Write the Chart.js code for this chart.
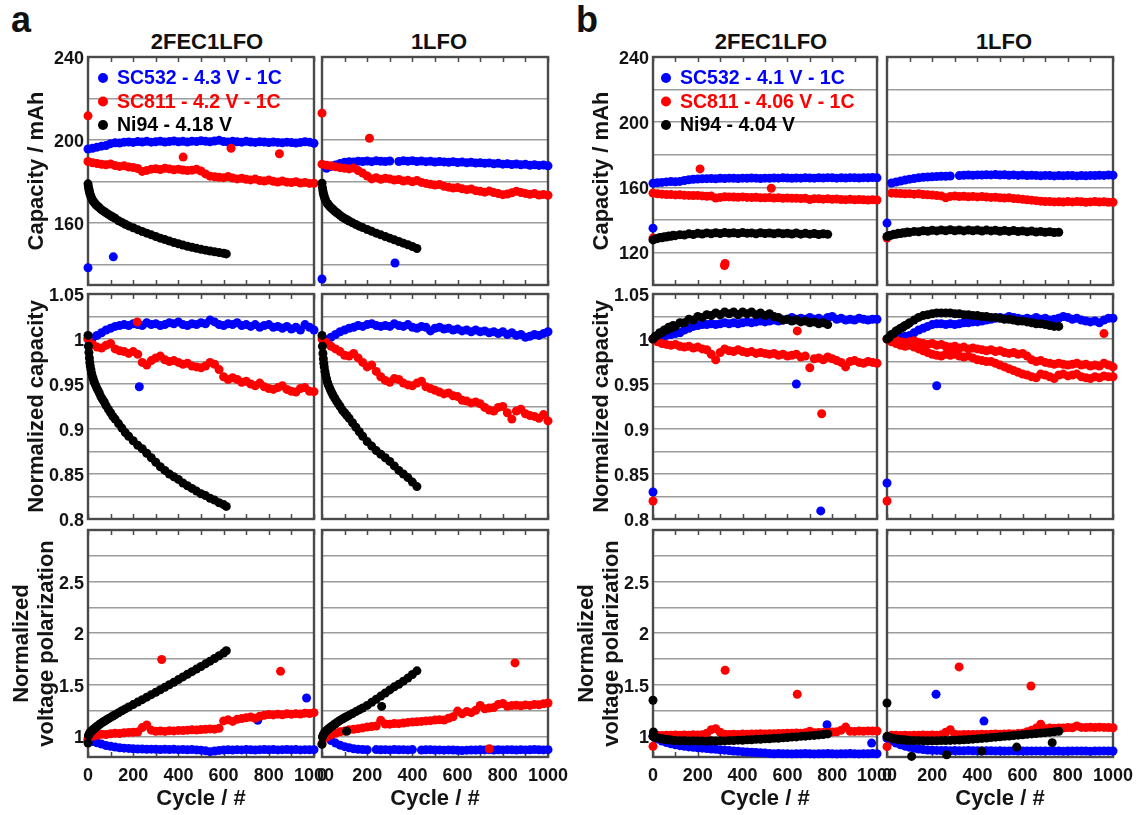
<!DOCTYPE html>
<html>
<head>
<meta charset="utf-8">
<title>Capacity, normalized capacity and voltage polarization vs. cycle</title>
<script src="https://cdn.jsdelivr.net/npm/chart.js@4.4.1/dist/chart.umd.min.js"></script>
<style>
  html, body { margin: 0; padding: 0; background: #fff; overflow: hidden; }
  #fig { position: relative; width: 1142px; height: 815px; background: #fff; }
  #fig canvas { position: absolute; left: 0; top: 0; }
  .txt { position: absolute; font-family: 'Liberation Sans', Arial, Helvetica, sans-serif;
         font-weight: bold; color: #111; white-space: nowrap; line-height: 1; }
  .hdr { font-size: 22px; transform: translateX(-50%); top: 31px; }
  .pl { font-size: 36px; top: 2px; }
</style>
</head>
<body>
<div id="fig">
  <div class="txt pl" style="left:11px">a</div>
  <div class="txt pl" style="left:576px">b</div>
  <div class="txt hdr" style="left:207px">2FEC1LFO</div>
  <div class="txt hdr" style="left:439px">1LFO</div>
  <div class="txt hdr" style="left:771px">2FEC1LFO</div>
  <div class="txt hdr" style="left:1004px">1LFO</div>
</div>
<script>
// ---------------- cycle numbers ----------------
const C20 = [0,20,40,60,80,100,120,140,160,180,200,220,240,260,280,300,320,340,360,380,400,420,440,460,480,500,520,540,560,580,600,620,640,660,680,700,720,740,760,780,800,820,840,860,880,900,920,940,960,980,1000];
const KA1 = [0,2,4,6,8,10,13,16,20,24,28,33,38,44,50,57,64,72,80,90,100,110,120,135,150,165,180,200,220,240,260,280,300,320,340,360,380,400,420,440,460,480,500,520,540,560,580,600,612];
const KA2 = [0,2,4,6,8,10,13,16,20,24,28,33,38,44,50,57,64,72,80,90,100,110,120,135,150,165,180,200,220,240,260,280,300,320,340,360,380,400,420];
const KB1 = [0,10,20,30,40,50,60,70,80,90,100,120,140,160,180,200,220,240,260,280,300,320,340,360,380,400,420,440,460,480,500,520,540,560,580,600,620,640,660,680,700,720,740,760,780];
const KB2 = [0,10,20,30,40,50,60,70,80,90,100,120,140,160,180,200,220,240,260,280,300,320,340,360,380,400,420,440,460,480,500,520,540,560,580,600,620,640,660,680,700,720,740,760];

// ---------------- axis ticks ----------------
const X_LABELS = [0,200,400,600,800,1000];
const X_MINOR = [0,100,200,300,400,500,600,700,800,900,1000];
const CAP_A_GRID = [140,160,180,200,220,240];
const CAP_A_LABELS = [160,200,240];
const CAP_B_GRID = [100,120,140,160,180,200,220,240];
const CAP_B_LABELS = [120,160,200,240];
const NRM_GRID = [0.8,0.825,0.85,0.875,0.9,0.925,0.95,0.975,1,1.025,1.05];
const NRM_LABELS = [0.8,0.85,0.9,0.95,1,1.05];
const POL_GRID = [1,1.25,1.5,1.75,2,2.25,2.5,2.75,3];
const POL_LABELS = [1,1.5,2,2.5];

// ---------------- series labels ----------------
const LABELS_A = ['SC532 - 4.3 V - 1C','SC811 - 4.2 V - 1C','Ni94 - 4.18 V'];
const LABELS_B = ['SC532 - 4.1 V - 1C','SC811 - 4.06 V - 1C','Ni94 - 4.04 V'];

// ======== a: 2FEC1LFO ========
const A_CAP_F_BLU = [195.6,196.0,196.5,197.0,197.3,198.2,198.6,198.5,198.9,199.0,198.8,199.2,199.0,199.3,198.9,199.1,199.4,199.0,199.2,199.5,199.1,199.3,199.0,199.4,199.2,199.6,199.3,199.1,199.5,199.8,199.2,199.0,199.3,199.1,198.9,199.3,199.0,198.8,199.1,199.0,198.7,199.0,198.8,198.6,198.9,198.7,198.5,198.8,199.1,198.9,198.4];
const A_CAP_F_BLU_OUT = [[0,138.3],[112,143.6]];
const A_CAP_F_RED = [189.6,189.0,188.6,188.2,188.0,188.4,187.6,187.2,187.5,186.9,186.7,186.2,184.8,185.3,185.9,186.1,185.7,186.3,186.0,185.6,185.9,185.5,185.2,185.4,185.8,185.0,183.6,182.5,182.2,182.0,181.8,182.3,181.6,181.2,181.5,181.0,180.7,181.1,180.4,180.2,180.6,180.0,179.7,180.2,179.6,179.4,179.8,179.2,179.5,179.0,179.1];
const A_CAP_F_RED_OUT = [[0,211.6],[421,191.7],[633,196.0],[847,193.3]];
const A_CAP_F_BLK = [178.8,177.4,176.2,175.2,174.3,173.5,172.6,171.8,171.0,170.3,169.7,169.1,168.5,167.9,167.3,166.6,166.0,165.4,164.8,164.1,163.4,162.8,162.2,161.0,160.2,159.3,158.5,157.6,156.7,155.8,155.0,154.2,153.4,152.6,151.9,151.2,150.5,149.9,149.3,148.7,148.2,147.7,147.2,146.8,146.4,146.0,145.7,145.3,145.0];

const A_NRM_F_BLU = [1.000,1.001,1.004,1.007,1.010,1.012,1.014,1.015,1.016,1.015,1.017,1.016,1.015,1.018,1.016,1.017,1.015,1.016,1.018,1.017,1.019,1.016,1.015,1.017,1.016,1.018,1.017,1.021,1.019,1.016,1.015,1.017,1.016,1.018,1.015,1.016,1.014,1.016,1.013,1.015,1.016,1.013,1.014,1.012,1.014,1.011,1.013,1.010,1.016,1.013,1.010];
const A_NRM_F_BLU_OUT = [[227,0.947]];
const A_NRM_F_RED = [1.000,0.994,0.991,0.990,0.993,0.995,0.989,0.987,0.986,0.984,0.986,0.983,0.974,0.971,0.976,0.979,0.981,0.977,0.975,0.976,0.974,0.972,0.973,0.970,0.969,0.968,0.970,0.974,0.972,0.966,0.958,0.955,0.957,0.955,0.952,0.953,0.950,0.948,0.951,0.947,0.945,0.944,0.946,0.948,0.944,0.942,0.941,0.945,0.946,0.942,0.9415];
const A_NRM_F_RED_OUT = [[218,1.019]];
const A_NRM_F_BLK = [1.004,0.992,0.985,0.979,0.974,0.970,0.966,0.962,0.958,0.955,0.952,0.949,0.946,0.943,0.940,0.936,0.933,0.930,0.926,0.922,0.918,0.914,0.911,0.906,0.901,0.896,0.892,0.887,0.882,0.878,0.873,0.868,0.863,0.858,0.854,0.850,0.847,0.844,0.840,0.837,0.834,0.831,0.828,0.826,0.823,0.821,0.818,0.816,0.814];

const A_POL_F_BLU = [0.960,0.950,0.938,0.925,0.912,0.903,0.896,0.890,0.886,0.883,0.880,0.878,0.877,0.875,0.876,0.874,0.873,0.875,0.872,0.874,0.871,0.873,0.870,0.872,0.869,0.866,0.860,0.852,0.858,0.864,0.867,0.870,0.868,0.871,0.869,0.872,0.870,0.868,0.871,0.873,0.870,0.872,0.869,0.871,0.873,0.870,0.872,0.869,0.871,0.870,0.871];
const A_POL_F_BLU_OUT = [[751,1.155],[967,1.372]];
const A_POL_F_RED = [0.975,1.000,1.010,1.020,1.018,1.025,1.030,1.028,1.035,1.038,1.040,1.042,1.085,1.110,1.060,1.050,1.052,1.048,1.055,1.053,1.058,1.056,1.060,1.063,1.061,1.066,1.068,1.072,1.070,1.078,1.150,1.160,1.145,1.165,1.172,1.180,1.188,1.176,1.195,1.205,1.212,1.208,1.215,1.210,1.218,1.214,1.220,1.216,1.225,1.222,1.230];
const A_POL_F_RED_OUT = [[326,1.745],[852,1.630]];
const A_POL_F_BLK = [0.935,1.005,1.016,1.024,1.031,1.037,1.045,1.053,1.061,1.068,1.075,1.084,1.093,1.103,1.114,1.125,1.136,1.147,1.158,1.171,1.184,1.197,1.210,1.229,1.248,1.266,1.285,1.308,1.332,1.356,1.380,1.404,1.428,1.452,1.476,1.500,1.525,1.550,1.576,1.602,1.627,1.652,1.677,1.703,1.729,1.755,1.781,1.808,1.830];

// ======== a: 1LFO ========
const A_CAP_L_BLU = [null,186.3,187.2,187.9,188.6,189.2,189.5,189.4,189.7,189.6,189.8,189.5,189.9,189.7,189.6,189.8,null,189.6,189.9,189.7,190.0,189.6,189.8,189.5,189.7,189.3,189.6,189.4,189.2,189.5,189.1,189.3,189.0,189.2,188.8,189.0,188.7,188.9,188.5,188.7,188.3,188.5,188.1,188.4,188.0,188.2,187.8,188.0,187.7,187.9,187.5];
const A_CAP_L_BLU_OUT = [[0,132.9],[323,140.6]];
const A_CAP_L_RED = [188.3,187.8,187.5,187.0,186.6,186.3,186.0,186.4,185.2,184.0,182.6,181.2,181.8,181.0,181.5,181.2,180.6,180.9,180.2,180.5,179.8,180.4,179.5,179.0,178.6,178.2,178.5,177.6,177.2,176.8,177.0,176.4,176.0,176.3,175.5,175.2,174.8,175.3,174.6,174.1,173.6,173.9,174.5,175.2,174.6,174.2,173.8,174.1,173.4,173.7,173.3];
const A_CAP_L_RED_OUT = [[0,212.9],[210,200.8]];
const A_CAP_L_BLK = [179.1,177.0,175.5,174.3,173.4,172.6,171.6,170.8,170.0,169.3,168.7,168.1,167.5,166.9,166.3,165.6,165.0,164.3,163.6,162.8,162.1,161.5,160.9,160.0,159.2,158.4,157.7,156.8,155.9,155.0,154.2,153.4,152.6,151.8,151.0,150.2,149.4,148.6,147.6];

const A_NRM_L_BLU = [null,0.999,1.002,1.005,1.008,1.010,1.012,1.013,1.015,1.014,1.016,1.017,1.015,1.014,1.015,1.014,1.017,1.015,1.014,1.016,1.013,1.012,1.014,1.013,1.009,1.012,1.013,1.011,1.012,1.010,1.011,1.009,1.010,1.008,1.010,1.008,1.009,1.007,1.008,1.006,1.008,1.005,1.007,1.004,1.005,1.002,1.003,1.005,1.004,1.006,1.008];
const A_NRM_L_RED = [1.000,0.996,0.992,0.989,0.986,0.982,0.981,0.984,0.979,0.974,0.969,0.971,0.964,0.958,0.954,0.952,0.956,0.955,0.951,0.949,0.948,0.951,0.953,0.947,0.945,0.943,0.941,0.939,0.940,0.937,0.936,0.932,0.931,0.929,0.930,0.928,0.924,0.921,0.920,0.924,0.925,0.918,0.911,0.920,0.922,0.917,0.915,0.914,0.912,0.916,0.909];
const A_NRM_L_BLK = [1.004,0.992,0.984,0.978,0.973,0.969,0.964,0.960,0.956,0.952,0.949,0.946,0.943,0.940,0.937,0.934,0.931,0.928,0.925,0.921,0.918,0.915,0.912,0.907,0.902,0.897,0.892,0.886,0.881,0.876,0.872,0.868,0.864,0.859,0.854,0.850,0.846,0.841,0.836];

const A_POL_L_BLU = [null,1.000,0.960,0.935,0.915,0.900,0.890,0.880,0.875,0.872,0.870,null,0.872,0.870,0.871,0.869,0.872,0.870,0.871,0.869,0.872,null,0.868,0.870,0.871,0.868,0.869,0.866,0.869,0.868,0.865,0.862,0.866,0.868,0.867,0.870,0.869,0.871,0.868,0.870,0.869,0.871,0.870,0.868,0.871,0.869,0.870,0.872,0.870,0.869,0.871];
const A_POL_L_RED = [0.930,0.990,1.015,1.030,1.045,1.052,1.065,1.068,1.075,1.082,1.090,1.096,1.100,1.155,1.120,1.118,1.125,1.123,1.130,1.135,1.138,1.142,1.145,1.150,1.152,1.158,1.162,1.158,1.175,1.190,1.245,1.218,1.240,1.230,1.252,1.300,1.268,1.275,1.280,1.310,1.318,1.292,1.298,1.302,1.296,1.305,1.300,1.310,1.306,1.315,1.323];
const A_POL_L_RED_OUT = [[740,0.880],[854,1.712]];
const A_POL_L_BLK = [0.922,0.993,1.005,1.014,1.022,1.029,1.038,1.046,1.055,1.063,1.071,1.080,1.089,1.099,1.109,1.120,1.131,1.143,1.155,1.168,1.180,1.192,1.204,1.222,1.240,1.257,1.275,1.300,1.330,1.360,1.390,1.420,1.450,1.480,1.505,1.535,1.565,1.600,1.635];
const A_POL_L_BLK_OUT = [[109,1.050],[264,1.290]];

// ======== b: 2FEC1LFO ========
const B_CAP_F_BLU = [162.5,162.8,163.0,163.3,163.5,163.4,163.6,164.2,164.6,164.9,165.1,165.2,165.3,165.4,165.2,165.5,165.4,165.6,165.5,165.4,165.6,165.5,165.7,165.6,165.4,165.6,165.5,165.7,165.6,165.8,165.7,165.5,165.7,165.6,165.8,165.7,165.6,165.8,165.7,165.9,165.8,165.6,165.8,165.7,165.9,165.8,165.7,165.9,165.8,166.0,165.8];
const B_CAP_F_BLU_OUT = [[0,134.9]];
const B_CAP_F_RED = [156.4,156.0,155.8,155.6,155.5,155.3,155.4,155.1,155.0,154.9,155.0,154.7,154.5,154.6,153.4,153.8,154.2,154.1,154.0,153.9,154.1,153.8,153.7,153.9,153.6,153.5,153.7,153.4,153.5,153.3,153.4,153.2,153.3,153.1,153.2,152.5,153.0,152.9,152.7,152.9,152.6,152.8,152.5,152.4,152.6,152.3,152.5,152.3,152.2,152.4,152.2];
const B_CAP_F_RED_OUT = [[0,128.8],[210,171.3],[319,112.0],[322,113.2],[528,159.4]];
const B_CAP_F_BLK = [127.7,128.3,128.5,129.1,129.0,129.6,129.5,130.1,129.9,130.5,130.3,130.9,130.7,131.4,131.0,131.7,131.3,132.0,131.5,132.1,131.6,132.2,131.7,132.1,131.6,132.2,131.7,132.0,131.5,132.1,131.6,131.9,131.4,132.0,131.4,131.8,131.3,131.9,131.2,131.7,131.2,131.6,131.0,131.5,131.1];

const B_NRM_F_BLU = [1.000,1.001,1.002,1.004,1.005,1.006,1.007,1.010,1.012,1.014,1.015,1.016,1.016,1.017,1.016,1.017,1.018,1.017,1.018,1.017,1.018,1.019,1.018,1.019,1.020,1.019,1.020,1.021,1.020,1.021,1.022,1.024,1.022,1.023,1.022,1.024,1.022,1.023,1.021,1.024,1.025,1.022,1.023,1.021,1.022,1.021,1.023,1.022,1.021,1.022,1.022];
const B_NRM_F_BLU_OUT = [[0,0.830],[640,0.950],[749,0.809]];
const B_NRM_F_RED = [1.000,0.997,0.995,0.994,0.993,0.994,0.992,0.991,0.992,0.990,0.991,0.989,0.988,0.983,0.977,0.985,0.989,0.987,0.986,0.988,0.986,0.985,0.986,0.984,0.985,0.984,0.983,0.984,0.982,0.983,0.981,0.982,0.983,0.980,0.981,0.968,0.978,0.979,0.977,0.980,0.978,0.976,0.974,0.969,0.975,0.976,0.974,0.973,0.975,0.974,0.973];
const B_NRM_F_RED_OUT = [[0,0.820],[644,1.009],[753,0.917]];
const B_NRM_F_BLK = [1.000,1.003,1.004,1.007,1.007,1.010,1.010,1.013,1.012,1.015,1.014,1.018,1.018,1.022,1.021,1.025,1.024,1.027,1.026,1.029,1.027,1.030,1.028,1.030,1.027,1.030,1.028,1.030,1.027,1.029,1.026,1.028,1.025,1.024,1.021,1.022,1.020,1.021,1.019,1.020,1.018,1.019,1.017,1.018,1.016];

const B_POL_F_BLU = [1.000,0.975,0.955,0.940,0.928,0.918,0.910,0.903,0.898,0.894,0.890,0.886,0.882,0.878,0.874,0.870,0.866,0.862,0.858,0.855,0.852,0.849,0.846,0.843,0.840,0.838,0.835,0.832,0.833,0.831,0.832,0.830,0.832,0.831,0.833,0.831,0.830,0.832,0.831,0.833,0.832,0.830,0.832,0.831,0.833,0.831,0.830,0.832,0.831,0.833,0.832];
const B_POL_F_BLU_OUT = [[777,1.113],[976,0.935]];
const B_POL_F_RED = [0.903,1.010,1.008,1.012,1.010,1.013,1.011,1.014,1.012,1.015,1.013,1.016,1.030,1.065,1.075,1.040,1.020,1.018,1.020,1.019,1.022,1.021,1.023,1.022,1.025,1.024,1.026,1.025,1.028,1.027,1.030,1.029,1.032,1.031,1.034,1.050,1.036,1.038,1.037,1.040,1.042,1.045,1.060,1.090,1.050,1.048,1.052,1.050,1.053,1.051,1.052];
const B_POL_F_RED_OUT = [[322,1.641],[644,1.408]];
const B_POL_F_BLK = [1.000,0.992,0.986,0.980,0.977,0.972,0.970,0.966,0.965,0.961,0.961,0.958,0.959,0.955,0.957,0.954,0.956,0.953,0.957,0.955,0.958,0.956,0.960,0.959,0.963,0.962,0.967,0.966,0.971,0.971,0.976,0.976,0.981,0.982,0.987,0.988,0.993,0.995,1.000,1.002,1.007,1.009,1.014,1.018,1.024];
const B_POL_F_BLK_OUT = [[0,1.350],[2,1.042]];

// ======== b: 1LFO ========
const B_CAP_L_BLU = [null,162.6,163.2,163.8,164.4,165.0,165.4,165.8,166.1,166.3,166.5,166.6,166.7,166.8,166.9,null,167.2,167.4,167.5,167.4,167.6,167.5,167.7,167.6,167.8,167.5,167.7,167.4,167.6,167.3,167.5,167.2,167.4,167.3,167.1,167.3,167.2,167.0,167.2,167.1,167.3,167.2,167.0,167.2,167.1,167.3,167.2,167.4,167.3,167.5,167.4];
const B_CAP_L_BLU_OUT = [[0,138.0]];
const B_CAP_L_RED = [null,156.4,156.3,156.2,156.0,156.1,155.8,156.0,155.6,155.4,155.2,154.9,154.7,153.6,154.4,154.6,154.3,154.5,154.2,154.4,154.1,154.3,154.0,153.8,153.9,153.6,153.4,153.5,153.1,152.9,152.6,152.3,152.1,151.8,151.5,151.3,151.2,151.0,151.1,150.9,151.2,151.0,151.3,151.1,150.8,151.0,151.2,150.9,151.1,150.8,150.8];
const B_CAP_L_RED_OUT = [[0,128.8]];
const B_CAP_L_BLK = [129.8,130.4,130.6,131.2,131.1,131.7,131.6,132.1,132.0,132.5,132.3,132.9,132.7,133.3,133.0,133.6,133.2,133.8,133.3,133.9,133.3,133.8,133.2,133.8,133.3,133.7,133.1,133.7,133.2,133.6,133.0,133.5,132.9,133.4,132.8,133.2,132.7,133.1,132.5,132.9,132.4,132.7,132.2,132.4];

const B_NRM_L_BLU = [null,1.000,1.001,1.002,1.003,1.004,1.007,1.010,1.012,1.014,1.016,1.017,1.017,1.016,1.017,1.016,1.017,1.018,1.018,1.019,1.019,1.020,1.021,1.022,1.023,1.024,1.023,1.025,1.024,1.023,1.022,1.023,1.022,1.024,1.022,1.023,1.021,1.022,1.023,1.025,1.024,1.022,1.023,1.021,1.020,1.019,1.020,1.018,1.021,1.023,1.023];
const B_NRM_L_BLU_OUT = [[0,0.840],[220,0.948]];
const B_NRM_L_RED = [1.000,0.998,0.999,0.997,0.996,0.997,0.998,0.996,0.995,0.994,0.995,0.993,0.994,0.992,0.991,0.992,0.990,0.991,0.989,0.990,0.989,0.988,0.987,0.988,0.986,0.987,0.985,0.984,0.985,0.983,0.984,0.981,0.977,0.975,0.976,0.974,0.973,0.972,0.973,0.972,0.971,0.972,0.973,0.971,0.972,0.970,0.971,0.970,0.973,0.971,0.969];
const B_NRM_L_RED_OUT = [[0,0.820],[960,1.006]];
const B_NRM_L_RED2 = [null,0.997,0.995,0.993,0.992,0.993,0.991,0.989,0.987,0.985,0.983,0.982,0.981,0.983,0.982,0.983,0.981,0.980,0.981,0.979,0.977,0.976,0.975,0.975,0.973,0.971,0.969,0.967,0.965,0.963,0.961,0.960,0.958,0.957,0.961,0.960,0.958,0.956,0.960,0.961,0.959,0.960,0.961,0.958,0.957,0.956,0.958,0.957,0.959,0.958,0.958];
const B_NRM_L_BLK = [1.000,1.002,1.005,1.006,1.009,1.010,1.012,1.013,1.015,1.016,1.018,1.021,1.024,1.026,1.027,1.028,1.029,1.029,1.029,1.029,1.028,1.028,1.027,1.027,1.026,1.026,1.025,1.025,1.024,1.024,1.023,1.022,1.022,1.021,1.020,1.020,1.019,1.018,1.017,1.017,1.016,1.015,1.014,1.014];

const B_POL_L_BLU = [0.980,0.955,0.935,0.918,0.905,0.895,0.885,0.878,0.872,0.868,0.865,0.864,0.862,0.863,0.861,0.862,0.860,0.861,0.862,0.860,0.861,0.859,0.860,0.861,0.859,0.860,0.858,0.859,0.860,0.858,0.859,0.857,0.858,0.859,0.857,0.858,0.859,0.857,0.858,0.856,0.858,0.857,0.859,0.857,0.858,0.856,0.858,0.857,0.859,0.857,0.858];
const B_POL_L_BLU_OUT = [[217,1.408],[429,1.148]];
const B_POL_L_RED = [0.900,1.010,1.012,1.008,1.011,1.009,1.012,1.010,1.013,1.011,1.014,1.012,1.015,1.040,1.065,1.020,1.016,1.018,1.017,1.019,1.018,1.020,1.019,1.021,1.022,1.020,1.023,1.025,1.024,1.027,1.030,1.045,1.060,1.080,1.117,1.075,1.080,1.078,1.082,1.080,1.085,1.083,1.100,1.087,1.085,1.088,1.086,1.089,1.087,1.085,1.084];
const B_POL_L_RED_OUT = [[319,1.673],[637,1.488]];
const B_POL_L_BLK = [1.000,0.990,0.983,0.978,0.974,0.971,0.968,0.966,0.964,0.963,0.961,0.960,0.959,0.958,0.958,0.958,0.958,0.959,0.960,0.961,0.963,0.965,0.967,0.970,0.973,0.976,0.980,0.984,0.988,0.992,0.996,1.000,1.004,1.008,1.012,1.016,1.020,1.024,1.028,1.032,1.036,1.040,1.045,1.050];
const B_POL_L_BLK_OUT = [[0,1.323],[109,0.806],[264,0.822],[419,0.857],[574,0.896],[731,0.939]];

// ---------------- drawing setup ----------------
const PAGE_W = 1142, PAGE_H = 815;
const FONT = "'Liberation Sans', Arial, Helvetica, sans-serif";
const BLUE = '#0000ff', RED = '#ff0000', BLACK = '#000000';
const TEXT = '#141414', GRID = '#9c9c9c', FRAME = '#4a4a4a';
Chart.defaults.font.family = FONT;

// plot-area rectangles (page pixels)
const COL_AF = [88, 314], COL_AL = [322, 548], COL_BF = [653, 877], COL_BL = [887, 1113];
const ROW_CAP = [57, 285], ROW_NRM = [294, 519], ROW_POL = [530, 757];

const AX_CAP_A = { min: 130, max: 240, grid: CAP_A_GRID, labels: CAP_A_LABELS };
const AX_CAP_B = { min: 100, max: 240, grid: CAP_B_GRID, labels: CAP_B_LABELS };
const AX_NRM = { min: 0.8, max: 1.05, grid: NRM_GRID, labels: NRM_LABELS };
const AX_POL = { min: 0.8, max: 3, grid: POL_GRID, labels: POL_LABELS };

function points(xs, ys, extra) {
  const out = [];
  xs.forEach((x, i) => { const y = ys[i]; if (y !== null && y !== undefined) out.push({ x, y }); });
  (extra || []).forEach(p => out.push({ x: p[0], y: p[1] }));
  return out;
}

function ds(label, color, xs, ys, extra, order) {
  return {
    label, order, data: points(xs, ys, extra),
    backgroundColor: color, borderColor: color, pointRadius: 4.5, pointBorderWidth: 0,
    pointHoverRadius: 4.5, showLine: false, clip: false
  };
}

// frame and inward minor ticks of every panel
const framePlugin = {
  id: 'panelFrame',
  beforeDatasetsDraw(chart) {
    const { ctx, chartArea: a } = chart;
    const xs = chart.scales.x;
    ctx.save();
    ctx.strokeStyle = FRAME;
    ctx.lineWidth = 1.5;
    ctx.beginPath();
    X_MINOR.forEach(v => {
      const px = Math.round(xs.getPixelForValue(v)) + 0.5;
      ctx.moveTo(px, a.top); ctx.lineTo(px, a.top + 5);
      ctx.moveTo(px, a.bottom); ctx.lineTo(px, a.bottom - 5);
    });
    ctx.stroke();
    ctx.lineWidth = 2.4;
    ctx.strokeRect(a.left, a.top, a.right - a.left, a.bottom - a.top);
    ctx.restore();
  }
};

// in-panel legend built from the first three datasets
function legendPlugin(dx) {
  return {
    id: 'panelLegend',
    afterDatasetsDraw(chart) {
      const { ctx, chartArea: a } = chart;
      const rows = [21, 44.5, 68];
      ctx.save();
      ctx.font = 'bold 19.5px ' + FONT;
      ctx.textBaseline = 'middle';
      chart.data.datasets.slice(0, 3).forEach((d, i) => {
        const y = a.top + rows[i];
        ctx.fillStyle = d.backgroundColor;
        ctx.beginPath(); ctx.arc(a.left + dx, y, 5, 0, Math.PI * 2); ctx.fill();
        ctx.fillText(d.label, a.left + dx + 14, y + 1);
      });
      ctx.restore();
    }
  };
}

const fig = document.getElementById('fig');

function panel(cfg) {
  const canvas = document.createElement('canvas');
  canvas.width = PAGE_W; canvas.height = PAGE_H;
  fig.appendChild(canvas);
  const [l, r] = cfg.col, [t, b] = cfg.row;
  const yW = cfg.yTitle ? (Array.isArray(cfg.yTitle) ? 78 : 62) : 0;
  const xH = cfg.xTitle ? 55 : 0;
  const ax = cfg.axis;
  const plugins = [framePlugin];
  if (cfg.legendDx) plugins.push(legendPlugin(cfg.legendDx));
  new Chart(canvas, {
    type: 'scatter',
    data: { datasets: cfg.sets },
    options: {
      responsive: false, animation: false, events: [],
      layout: { padding: { left: l - yW, top: t, right: PAGE_W - r, bottom: PAGE_H - b - xH } },
      plugins: { legend: { display: false }, tooltip: { enabled: false } },
      scales: {
        x: {
          type: 'linear', min: 0, max: 1000,
          grid: { display: false, drawTicks: false }, border: { display: false },
          ticks: { display: !!cfg.xTitle, autoSkip: false, maxRotation: 0, padding: 8,
                   color: TEXT, font: { size: 18, weight: 'bold' },
                   callback: v => String(v) },
          afterBuildTicks: s => { s.ticks = X_LABELS.map(v => ({ value: v })); },
          afterFit: s => { s.height = xH; },
          title: { display: !!cfg.xTitle, text: cfg.xTitle || '', color: TEXT,
                   font: { size: 22, weight: 'bold', lineHeight: 1.2 }, padding: { top: 0, bottom: 0 } }
        },
        y: {
          type: 'linear', min: ax.min, max: ax.max,
          grid: { color: GRID, lineWidth: 1.5, drawTicks: false }, border: { display: false },
          ticks: {
            display: !!cfg.yTitle, autoSkip: false, padding: 4, labelOffset: 2, color: TEXT,
            font: { size: 18, weight: 'bold' },
            callback: v => { const hit = ax.labels.find(q => Math.abs(q - v) < 1e-9); return hit === undefined ? '' : String(hit); }
          },
          afterBuildTicks: s => { s.ticks = ax.grid.map(v => ({ value: v })); },
          afterFit: s => { s.width = yW; },
          title: { display: !!cfg.yTitle, text: cfg.yTitle || '', color: TEXT,
                   font: { size: 22, weight: 'bold', lineHeight: Array.isArray(cfg.yTitle) ? 1.12 : 1.0 },
                   padding: { top: 0, bottom: 0 } }
        }
      }
    },
    plugins
  });
}

const LA = LABELS_A, LB = LABELS_B;

// ----- a, 2FEC1LFO -----
panel({ col: COL_AF, row: ROW_CAP, axis: AX_CAP_A, yTitle: 'Capacity / mAh', legendDx: 15, sets: [
  ds(LA[0], BLUE, C20, A_CAP_F_BLU, A_CAP_F_BLU_OUT, 2),
  ds(LA[1], RED, C20, A_CAP_F_RED, A_CAP_F_RED_OUT, 1),
  ds(LA[2], BLACK, KA1, A_CAP_F_BLK, null, 0)] });
panel({ col: COL_AF, row: ROW_NRM, axis: AX_NRM, yTitle: 'Normalized capacity', sets: [
  ds(LA[0], BLUE, C20, A_NRM_F_BLU, A_NRM_F_BLU_OUT, 2),
  ds(LA[1], RED, C20, A_NRM_F_RED, A_NRM_F_RED_OUT, 1),
  ds(LA[2], BLACK, KA1, A_NRM_F_BLK, null, 0)] });
panel({ col: COL_AF, row: ROW_POL, axis: AX_POL, yTitle: ['Normalized', 'voltage polarization'], xTitle: 'Cycle / #', sets: [
  ds(LA[0], BLUE, C20, A_POL_F_BLU, A_POL_F_BLU_OUT, 2),
  ds(LA[1], RED, C20, A_POL_F_RED, A_POL_F_RED_OUT, 1),
  ds(LA[2], BLACK, KA1, A_POL_F_BLK, null, 0)] });

// ----- a, 1LFO -----
panel({ col: COL_AL, row: ROW_CAP, axis: AX_CAP_A, sets: [
  ds(LA[0], BLUE, C20, A_CAP_L_BLU, A_CAP_L_BLU_OUT, 2),
  ds(LA[1], RED, C20, A_CAP_L_RED, A_CAP_L_RED_OUT, 1),
  ds(LA[2], BLACK, KA2, A_CAP_L_BLK, null, 0)] });
panel({ col: COL_AL, row: ROW_NRM, axis: AX_NRM, sets: [
  ds(LA[0], BLUE, C20, A_NRM_L_BLU, null, 2),
  ds(LA[1], RED, C20, A_NRM_L_RED, null, 1),
  ds(LA[2], BLACK, KA2, A_NRM_L_BLK, null, 0)] });
panel({ col: COL_AL, row: ROW_POL, axis: AX_POL, xTitle: 'Cycle / #', sets: [
  ds(LA[0], BLUE, C20, A_POL_L_BLU, null, 2),
  ds(LA[1], RED, C20, A_POL_L_RED, A_POL_L_RED_OUT, 1),
  ds(LA[2], BLACK, KA2, A_POL_L_BLK, A_POL_L_BLK_OUT, 0)] });

// ----- b, 2FEC1LFO -----
panel({ col: COL_BF, row: ROW_CAP, axis: AX_CAP_B, yTitle: 'Capacity / mAh', legendDx: 13, sets: [
  ds(LB[0], BLUE, C20, B_CAP_F_BLU, B_CAP_F_BLU_OUT, 2),
  ds(LB[1], RED, C20, B_CAP_F_RED, B_CAP_F_RED_OUT, 1),
  ds(LB[2], BLACK, KB1, B_CAP_F_BLK, null, 0)] });
panel({ col: COL_BF, row: ROW_NRM, axis: AX_NRM, yTitle: 'Normalized capacity', sets: [
  ds(LB[0], BLUE, C20, B_NRM_F_BLU, B_NRM_F_BLU_OUT, 2),
  ds(LB[1], RED, C20, B_NRM_F_RED, B_NRM_F_RED_OUT, 1),
  ds(LB[2], BLACK, KB1, B_NRM_F_BLK, null, 0)] });
panel({ col: COL_BF, row: ROW_POL, axis: AX_POL, yTitle: ['Normalized', 'voltage polarization'], xTitle: 'Cycle / #', sets: [
  ds(LB[0], BLUE, C20, B_POL_F_BLU, B_POL_F_BLU_OUT, 2),
  ds(LB[1], RED, C20, B_POL_F_RED, B_POL_F_RED_OUT, 1),
  ds(LB[2], BLACK, KB1, B_POL_F_BLK, B_POL_F_BLK_OUT, 0)] });

// ----- b, 1LFO -----
panel({ col: COL_BL, row: ROW_CAP, axis: AX_CAP_B, sets: [
  ds(LB[0], BLUE, C20, B_CAP_L_BLU, B_CAP_L_BLU_OUT, 2),
  ds(LB[1], RED, C20, B_CAP_L_RED, B_CAP_L_RED_OUT, 1),
  ds(LB[2], BLACK, KB2, B_CAP_L_BLK, null, 0)] });
panel({ col: COL_BL, row: ROW_NRM, axis: AX_NRM, sets: [
  ds(LB[0], BLUE, C20, B_NRM_L_BLU, B_NRM_L_BLU_OUT, 2),
  ds(LB[1], RED, C20, B_NRM_L_RED, B_NRM_L_RED_OUT, 1),
  ds(LB[2], BLACK, KB2, B_NRM_L_BLK, null, 0),
  ds(LB[1], RED, C20, B_NRM_L_RED2, null, 1)] });
panel({ col: COL_BL, row: ROW_POL, axis: AX_POL, xTitle: 'Cycle / #', sets: [
  ds(LB[0], BLUE, C20, B_POL_L_BLU, B_POL_L_BLU_OUT, 2),
  ds(LB[1], RED, C20, B_POL_L_RED, B_POL_L_RED_OUT, 1),
  ds(LB[2], BLACK, KB2, B_POL_L_BLK, B_POL_L_BLK_OUT, 0)] });
</script>
</body>
</html>
